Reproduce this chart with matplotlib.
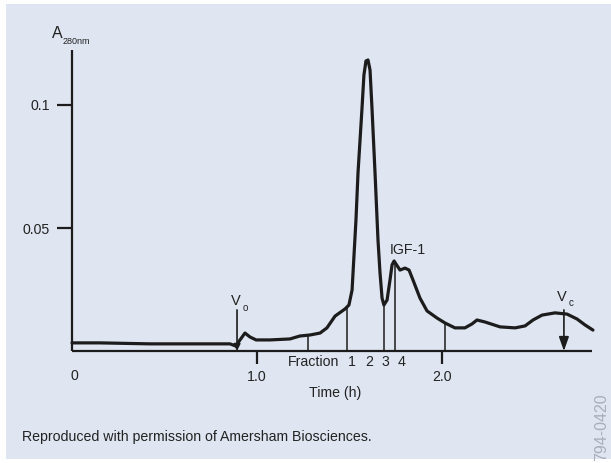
import matplotlib
matplotlib.use("Agg")
import matplotlib.pyplot as plt
from matplotlib.patches import Rectangle
import numpy as np

plt.rcParams['font.family'] = ['Liberation Sans', 'DejaVu Sans']

# chromatogram trace: time (h) vs A280nm
time_h = [0.000, 0.151, 0.422, 0.692, 0.854, 0.886, 0.908, 0.935, 0.962, 0.995,
          1.070, 1.178, 1.232, 1.286, 1.341, 1.378, 1.422, 1.476, 1.497, 1.514,
          1.519, 1.535, 1.546, 1.557, 1.568, 1.578, 1.589, 1.600, 1.611, 1.622,
          1.638, 1.654, 1.665, 1.676, 1.686, 1.703, 1.719, 1.730, 1.741, 1.751,
          1.773, 1.800, 1.822, 1.843, 1.881, 1.919, 1.973, 2.016, 2.070, 2.124,
          2.162, 2.189, 2.232, 2.314, 2.395, 2.449, 2.492, 2.541, 2.611, 2.676,
          2.730, 2.773, 2.816]
absorb = [0.0033, 0.0033, 0.0029, 0.0029, 0.0029, 0.0020, 0.0045, 0.0073, 0.0057, 0.0045,
          0.0045, 0.0049, 0.0061, 0.0065, 0.0073, 0.0094, 0.0142, 0.0171, 0.0187, 0.0248,
          0.0317, 0.0533, 0.0724, 0.0858, 0.0992, 0.1122, 0.1179, 0.1183, 0.1142, 0.0980,
          0.0724, 0.0451, 0.0317, 0.0215, 0.0187, 0.0207, 0.0289, 0.0350, 0.0366, 0.0354,
          0.0329, 0.0337, 0.0329, 0.0289, 0.0215, 0.0163, 0.0134, 0.0114, 0.0094, 0.0094,
          0.0110, 0.0126, 0.0118, 0.0098, 0.0094, 0.0102, 0.0126, 0.0146, 0.0155, 0.0150,
          0.0130, 0.0106, 0.0085]

fraction_edges = [1.276, 1.486, 1.686, 1.746, 2.016]
fraction_names = ["1", "2", "3", "4"]
fraction_name_pos = [1.514, 1.605, 1.692, 1.784]
void_vol = 0.892     # Vo
column_vol = 2.659   # Vc
marker_top = 0.0167

xticks = [1.0, 2.0]
xtick_labels = ["1.0", "2.0"]
yticks = [0.05, 0.1]
ytick_labels = ["0.05", "0.1"]

W, H = 611, 463
ink = '#1c1c1c'
txt = '#222222'


def px(x, y):
    return x / W, 1 - y / H


fig = plt.figure(figsize=(W / 100, H / 100), dpi=100)
fig.patch.set_facecolor('white')
fig.patches.append(Rectangle((6 / W, 4 / H), 605 / W, 455 / H, transform=fig.transFigure,
                             facecolor='#dfe6f1', edgecolor='none', zorder=-5))

ax = fig.add_axes([72 / W, (H - 351) / H, 520 / W, 301 / H])
ax.patch.set_visible(False)
ax.set_xlim(0, 520 / 185)
ax.set_ylim(0, 301 / 2460)
for s in ['top', 'right']:
    ax.spines[s].set_visible(False)
for s in ['left', 'bottom']:
    ax.spines[s].set_linewidth(1.6)
    ax.spines[s].set_color(ink)
    ax.spines[s].set_capstyle('butt')

ax.set_xticks(xticks)
ax.set_xticklabels(xtick_labels)
ax.set_yticks(yticks)
ax.set_yticklabels(ytick_labels)
ax.tick_params(axis='x', length=9, width=1.6, color=ink, pad=5, labelsize=10.2, labelcolor=txt)
ax.tick_params(axis='y', length=11, width=1.6, color=ink, pad=5, labelsize=10.2, labelcolor=txt)

# trace
ax.plot(time_h, absorb, color=ink, lw=2.3, solid_joinstyle='round', solid_capstyle='round',
        clip_on=False, zorder=4)

# fraction cut lines
tops = np.interp(fraction_edges, time_h, absorb)
ax.vlines(fraction_edges, 0, tops, color=ink, lw=1.1, zorder=3)

# Vo / Vc markers
for t, hw, hl in [(void_vol, 0.2, 0.4), (column_vol, 0.3, 0.85)]:
    ax.annotate("", xy=(t, 0), xytext=(t, marker_top),
                arrowprops=dict(arrowstyle="-|>,head_width=%s,head_length=%s" % (hw, hl),
                                color=ink, lw=1.2, shrinkA=0, shrinkB=0), zorder=5)

# labels
fig.text(*px(57.5, 33), "A", fontsize=11.5, ha='center', va='center', color=txt)
fig.text(*px(63, 42), "280nm", fontsize=6.5, ha='left', va='center', color=txt)
fig.text(*px(74, 376), "0", fontsize=10.2, ha='center', va='center', color=txt)
fig.text(*px(335, 393), "Time (h)", fontsize=10.2, ha='center', va='center', color=txt)
fig.text(*px(314, 362), "Fraction", fontsize=10.2, ha='center', va='center', color=txt)
for name, t in zip(fraction_names, fraction_name_pos):
    ax.text(t, -0.0045, name, fontsize=10.2, ha='center', va='center', color=txt, clip_on=False)
fig.text(*px(408, 250), "IGF-1", fontsize=10.2, ha='center', va='center', color=txt)
fig.text(*px(235.5, 301), "V", fontsize=10.5, ha='center', va='center', color=txt)
fig.text(*px(245, 308), "o", fontsize=7, ha='center', va='center', color=txt)
fig.text(*px(562, 297), "V", fontsize=10.5, ha='center', va='center', color=txt)
fig.text(*px(571, 303), "c", fontsize=7, ha='center', va='center', color=txt)

fig.text(*px(22, 437), "Reproduced with permission of Amersham Biosciences.", fontsize=10.2,
         ha='left', va='center', color=txt)
fig.text(*px(602, 461), "794-0420", fontsize=11.5, rotation=90, ha='center', va='bottom',
         color='#a8afba')

fig.savefig("out.png", dpi=100)
